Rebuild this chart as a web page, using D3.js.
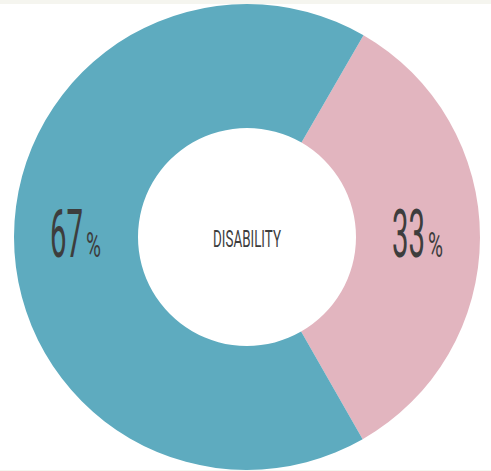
<!DOCTYPE html>
<html>
<head>
    <script src="https://d3js.org/d3.v7.min.js"></script>
    <style>
        body { margin:0; background:white; }
        text { font-family: Roboto, "DejaVu Sans", sans-serif; fill:#3d3d3d; }
    </style>
</head>
<body>
    <script>
        var labels = ["Yes", "No"];
        var values = [33.4, 66.6];
        var colors = ["#e2b5bf", "#5eabbf"];
        var title = "DISABILITY";

        var width = 491, height = 471;
        var cx = 247, cy = 237, outerR = 233, innerR = 109;

        var svg = d3.select("body").append("svg")
                    .attr("width", width).attr("height", height);

        svg.append("rect").attr("x", 0).attr("y", 0)
            .attr("width", width).attr("height", 4).attr("fill", "#f5f5ef");
        svg.append("rect").attr("x", 0).attr("y", 470)
            .attr("width", width).attr("height", 1).attr("fill", "#f5f5ef");

        var g = svg.append("g").attr("transform", "translate(" + cx + "," + cy + ")");

        // pink slice starts at 30deg from the top, clockwise
        var pie = d3.pie().sort(null)
                    .startAngle(Math.PI / 6).endAngle(Math.PI / 6 + 2 * Math.PI)
                    .value(function(d){ return d; });
        var arc = d3.arc().innerRadius(innerR).outerRadius(outerR);
        var slices = pie(values);

        g.selectAll("path").data(slices).enter().append("path")
            .attr("d", arc)
            .attr("fill", function(d, i){ return colors[i]; });

        // condensed text: squeeze a normal font horizontally to a given width
        function squeeze(sel, x, y, w){
            var len = sel.node().getComputedTextLength();
            sel.attr("transform", "translate(" + x + "," + y + ") scale(" + (w / len) + ",1)");
        }

        slices.forEach(function(d){
            var c = arc.centroid(d);
            var num = g.append("text").style("font-size", "67px")
                        .text(Math.round(d.data));
            squeeze(num, c[0] - 26, c[1] + 20, 33);
            var pct = g.append("text").style("font-size", "35px").text("%");
            squeeze(pct, c[0] + 10, c[1] + 20, 15);
        });

        var t = g.append("text").style("font-size", "23px").text(title);
        squeeze(t, -34, 10, 68);
    </script>
</body>
</html>
